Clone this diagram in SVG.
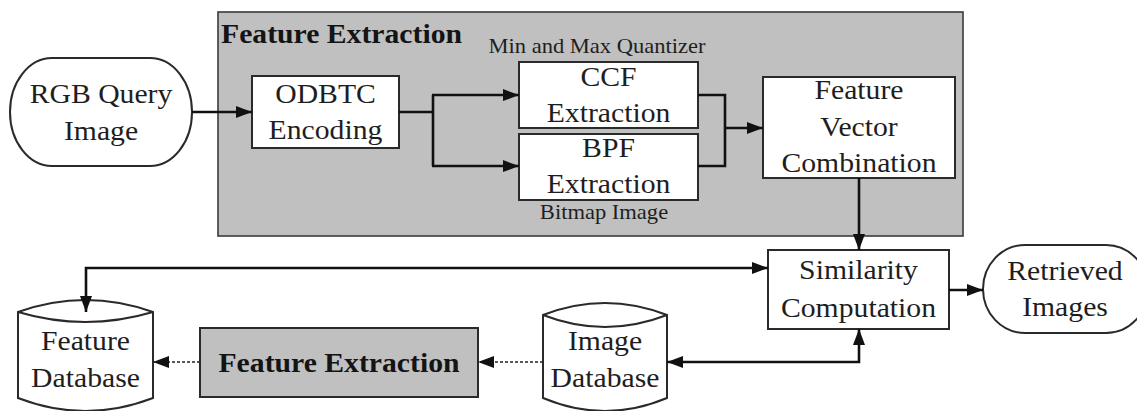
<svg xmlns="http://www.w3.org/2000/svg" width="1137" height="411" viewBox="0 0 1137 411">
  <style>
    .panel { fill: #c0c0c0; stroke: #3a3a3a; stroke-width: 1.6; }
    .box { fill: #ffffff; stroke: #2a2a2a; stroke-width: 2; }
    .gbox { fill: #c0c0c0; stroke: #2a2a2a; stroke-width: 2; }
    .t { font-family: "Liberation Serif", "Times New Roman", serif; font-size: 27px; fill: #1e1e1e; text-anchor: middle; }
    .s { font-family: "Liberation Serif", "Times New Roman", serif; font-size: 20.5px; fill: #1e1e1e; text-anchor: middle; }
    .b { font-family: "Liberation Serif", "Times New Roman", serif; font-size: 27px; font-weight: bold; fill: #141414; }
    .line { fill: none; stroke: #111111; stroke-width: 2.6; }
    .dot { fill: none; stroke: #222222; stroke-width: 1.4; stroke-dasharray: 3 2; }
  </style>
  <defs>
    <marker id="arrow" viewBox="0 0 16 12" refX="16" refY="6" markerWidth="16" markerHeight="12" markerUnits="userSpaceOnUse" orient="auto-start-reverse">
      <path d="M0,0 L16,6 L0,12 Z" fill="#111111"/>
    </marker>
  </defs>

  <rect width="1137" height="411" fill="#ffffff"/>

  <!-- Feature extraction stage -->
  <g id="feature-extraction-panel">
    <rect class="panel" x="218" y="12" width="745" height="224"/>
    <text class="b" transform="translate(221 43) scale(1.1 1)">Feature Extraction</text>
    <text class="s" transform="translate(597 53) scale(1.1 1)">Min and Max Quantizer</text>
    <text class="s" transform="translate(604 219) scale(1.1 1)">Bitmap Image</text>
  </g>

  <g id="rgb-query-image">
    <rect class="box" x="10" y="58" width="182" height="108" rx="42" ry="54"/>
    <text class="t" transform="translate(101 103) scale(1.1 1)">RGB Query</text>
    <text class="t" transform="translate(101 140) scale(1.1 1)">Image</text>
  </g>

  <g id="odbtc-encoding">
    <rect class="box" x="252" y="76" width="147" height="72"/>
    <text class="t" transform="translate(325.5 103) scale(1.1 1)">ODBTC</text>
    <text class="t" transform="translate(325.5 139) scale(1.1 1)">Encoding</text>
  </g>

  <g id="ccf-extraction">
    <rect class="box" x="519" y="62" width="179" height="66"/>
    <text class="t" transform="translate(608.5 86) scale(1.1 1)">CCF</text>
    <text class="t" transform="translate(608.5 122) scale(1.1 1)">Extraction</text>
  </g>

  <g id="bpf-extraction">
    <rect class="box" x="519" y="134" width="179" height="66"/>
    <text class="t" transform="translate(608.5 157) scale(1.1 1)">BPF</text>
    <text class="t" transform="translate(608.5 193) scale(1.1 1)">Extraction</text>
  </g>

  <g id="feature-vector-combination">
    <rect class="box" x="763" y="77" width="192" height="101"/>
    <text class="t" transform="translate(859 99) scale(1.1 1)">Feature</text>
    <text class="t" transform="translate(859 136) scale(1.1 1)">Vector</text>
    <text class="t" transform="translate(859 172) scale(1.1 1)">Combination</text>
  </g>

  <g id="similarity-computation">
    <rect class="box" x="768" y="250" width="181" height="79"/>
    <text class="t" transform="translate(858.5 279) scale(1.1 1)">Similarity</text>
    <text class="t" transform="translate(858.5 317) scale(1.1 1)">Computation</text>
  </g>

  <g id="retrieved-images">
    <rect class="box" x="983" y="245" width="165" height="88" rx="42" ry="44"/>
    <text class="t" transform="translate(1065 280) scale(1.1 1)">Retrieved</text>
    <text class="t" transform="translate(1065 316) scale(1.1 1)">Images</text>
  </g>

  <g id="feature-database">
    <path class="box" d="M18,312 Q85.5,288 153,312 L153,398 Q85.5,424 18,398 Z"/>
    <path class="box" d="M18,312 Q85.5,332 153,312" fill="none"/>
    <text class="t" transform="translate(85.5 350) scale(1.1 1)">Feature</text>
    <text class="t" transform="translate(85.5 387) scale(1.1 1)">Database</text>
  </g>

  <g id="feature-extraction-offline">
    <rect class="gbox" x="200" y="328" width="278" height="69"/>
    <text class="b" text-anchor="middle" transform="translate(339 372) scale(1.1 1)">Feature Extraction</text>
  </g>

  <g id="image-database">
    <path class="box" d="M543,315 Q605,291 667,315 L667,398 Q605,424 543,398 Z"/>
    <path class="box" d="M543,315 Q605,339 667,315" fill="none"/>
    <text class="t" transform="translate(605 350) scale(1.1 1)">Image</text>
    <text class="t" transform="translate(605 387) scale(1.1 1)">Database</text>
  </g>

  <!-- Connectors -->
  <g id="connectors">
    <path class="line" d="M192,112 L252,112" marker-end="url(#arrow)"/>
    <path class="line" d="M399,112 L433,112"/>
    <path class="line" d="M433,95 L433,166"/>
    <path class="line" d="M432,95 L519,95" marker-end="url(#arrow)"/>
    <path class="line" d="M432,166 L519,166" marker-end="url(#arrow)"/>
    <path class="line" d="M698,95 L725,95 L725,166 L698,166"/>
    <path class="line" d="M725,128 L763,128" marker-end="url(#arrow)"/>
    <path class="line" d="M859,178 L859,250" marker-end="url(#arrow)"/>
    <path class="line" d="M86,312 L86,268 L768,268" marker-start="url(#arrow)" marker-end="url(#arrow)"/>
    <path class="line" d="M949,290 L983,290" marker-end="url(#arrow)"/>
    <path class="line" d="M667,362 L859,362 L859,329" marker-start="url(#arrow)" marker-end="url(#arrow)"/>
    <path class="dot" d="M543,362 L478,362" marker-end="url(#arrow)"/>
    <path class="dot" d="M200,362 L153,362" marker-end="url(#arrow)"/>
  </g>
</svg>
